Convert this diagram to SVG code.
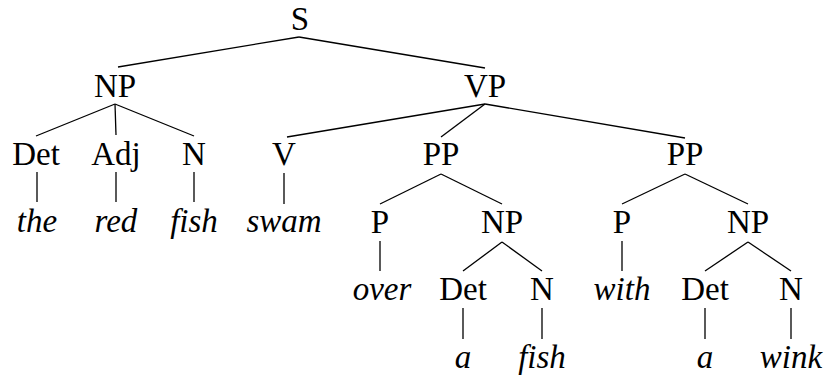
<svg xmlns="http://www.w3.org/2000/svg" width="826" height="376" viewBox="0 0 826 376">
<style>
.n{font-family:"Liberation Serif",serif !important;font-size:33px;fill:#000;text-anchor:middle}
.w{font-family:"Liberation Serif",serif !important;font-size:33px;font-style:italic !important;fill:#000;text-anchor:middle}
.e{stroke:#000;stroke-width:1.3;fill:none}
</style>
<rect width="826" height="376" fill="#fff"/>
<g id="edges" class="e">
<line x1="299" y1="37" x2="118" y2="67"/>
<line x1="299" y1="37" x2="485" y2="68"/>
<line x1="115" y1="104" x2="36" y2="136"/>
<line x1="115" y1="104" x2="116" y2="135"/>
<line x1="115" y1="104" x2="194" y2="136"/>
<line x1="485" y1="104" x2="287" y2="137"/>
<line x1="485" y1="104" x2="441" y2="137"/>
<line x1="485" y1="104" x2="685" y2="138"/>
<line x1="37" y1="172" x2="37" y2="202"/>
<line x1="116" y1="172" x2="116" y2="202"/>
<line x1="194" y1="172" x2="194" y2="202"/>
<line x1="284" y1="173" x2="284" y2="204"/>
<line x1="441" y1="174" x2="380" y2="204"/>
<line x1="441" y1="174" x2="502" y2="204"/>
<line x1="685" y1="174" x2="622" y2="204"/>
<line x1="685" y1="174" x2="748" y2="204"/>
<line x1="380" y1="241" x2="380" y2="271"/>
<line x1="622" y1="241" x2="622" y2="271"/>
<line x1="502" y1="242" x2="463" y2="271"/>
<line x1="502" y1="242" x2="542" y2="271"/>
<line x1="748" y1="242" x2="705" y2="271"/>
<line x1="748" y1="242" x2="791" y2="271"/>
<line x1="463" y1="308" x2="463" y2="339"/>
<line x1="542" y1="308" x2="542" y2="339"/>
<line x1="705" y1="308" x2="705" y2="339"/>
<line x1="791" y1="308" x2="791" y2="339"/>
</g>
<g id="n-S"><text class="n" style="font-family:'Liberation Serif',serif" x="300" y="30">S</text></g>
<g id="n-NP"><text class="n" style="font-family:'Liberation Serif',serif" x="115" y="97">NP</text></g>
<g id="n-VP"><text class="n" style="font-family:'Liberation Serif',serif" x="485" y="97">VP</text></g>
<g id="n-Det1"><text class="n" style="font-family:'Liberation Serif',serif" x="36" y="165">Det</text></g>
<g id="n-Adj"><text class="n" style="font-family:'Liberation Serif',serif" x="116" y="165">Adj</text></g>
<g id="n-N1"><text class="n" style="font-family:'Liberation Serif',serif" x="194" y="165">N</text></g>
<g id="n-V"><text class="n" style="font-family:'Liberation Serif',serif" x="284" y="165">V</text></g>
<g id="n-PP1"><text class="n" style="font-family:'Liberation Serif',serif" x="441" y="165">PP</text></g>
<g id="n-PP2"><text class="n" style="font-family:'Liberation Serif',serif" x="685" y="165">PP</text></g>
<g id="n-the"><text class="w" style="font-family:'Liberation Serif',serif" x="37" y="232">the</text></g>
<g id="n-red"><text class="w" style="font-family:'Liberation Serif',serif" x="116" y="232">red</text></g>
<g id="n-fish1"><text class="w" style="font-family:'Liberation Serif',serif" x="194" y="232">fish</text></g>
<g id="n-swam"><text class="w" style="font-family:'Liberation Serif',serif" x="284" y="232">swam</text></g>
<g id="n-P1"><text class="n" style="font-family:'Liberation Serif',serif" x="380" y="233">P</text></g>
<g id="n-NP2"><text class="n" style="font-family:'Liberation Serif',serif" x="502" y="233">NP</text></g>
<g id="n-P2"><text class="n" style="font-family:'Liberation Serif',serif" x="622" y="233">P</text></g>
<g id="n-NP3"><text class="n" style="font-family:'Liberation Serif',serif" x="748" y="233">NP</text></g>
<g id="n-over"><text class="w" style="font-family:'Liberation Serif',serif" x="382" y="300">over</text></g>
<g id="n-Det2"><text class="n" style="font-family:'Liberation Serif',serif" x="463" y="300">Det</text></g>
<g id="n-N2"><text class="n" style="font-family:'Liberation Serif',serif" x="542" y="300">N</text></g>
<g id="n-with"><text class="w" style="font-family:'Liberation Serif',serif" x="622" y="300">with</text></g>
<g id="n-Det3"><text class="n" style="font-family:'Liberation Serif',serif" x="705" y="300">Det</text></g>
<g id="n-N3"><text class="n" style="font-family:'Liberation Serif',serif" x="791" y="300">N</text></g>
<g id="n-a1"><text class="w" style="font-family:'Liberation Serif',serif" x="463" y="368">a</text></g>
<g id="n-fish2"><text class="w" style="font-family:'Liberation Serif',serif" x="542" y="368">fish</text></g>
<g id="n-a2"><text class="w" style="font-family:'Liberation Serif',serif" x="705" y="368">a</text></g>
<g id="n-wink"><text class="w" style="font-family:'Liberation Serif',serif" x="791" y="368">wink</text></g>
</svg>
